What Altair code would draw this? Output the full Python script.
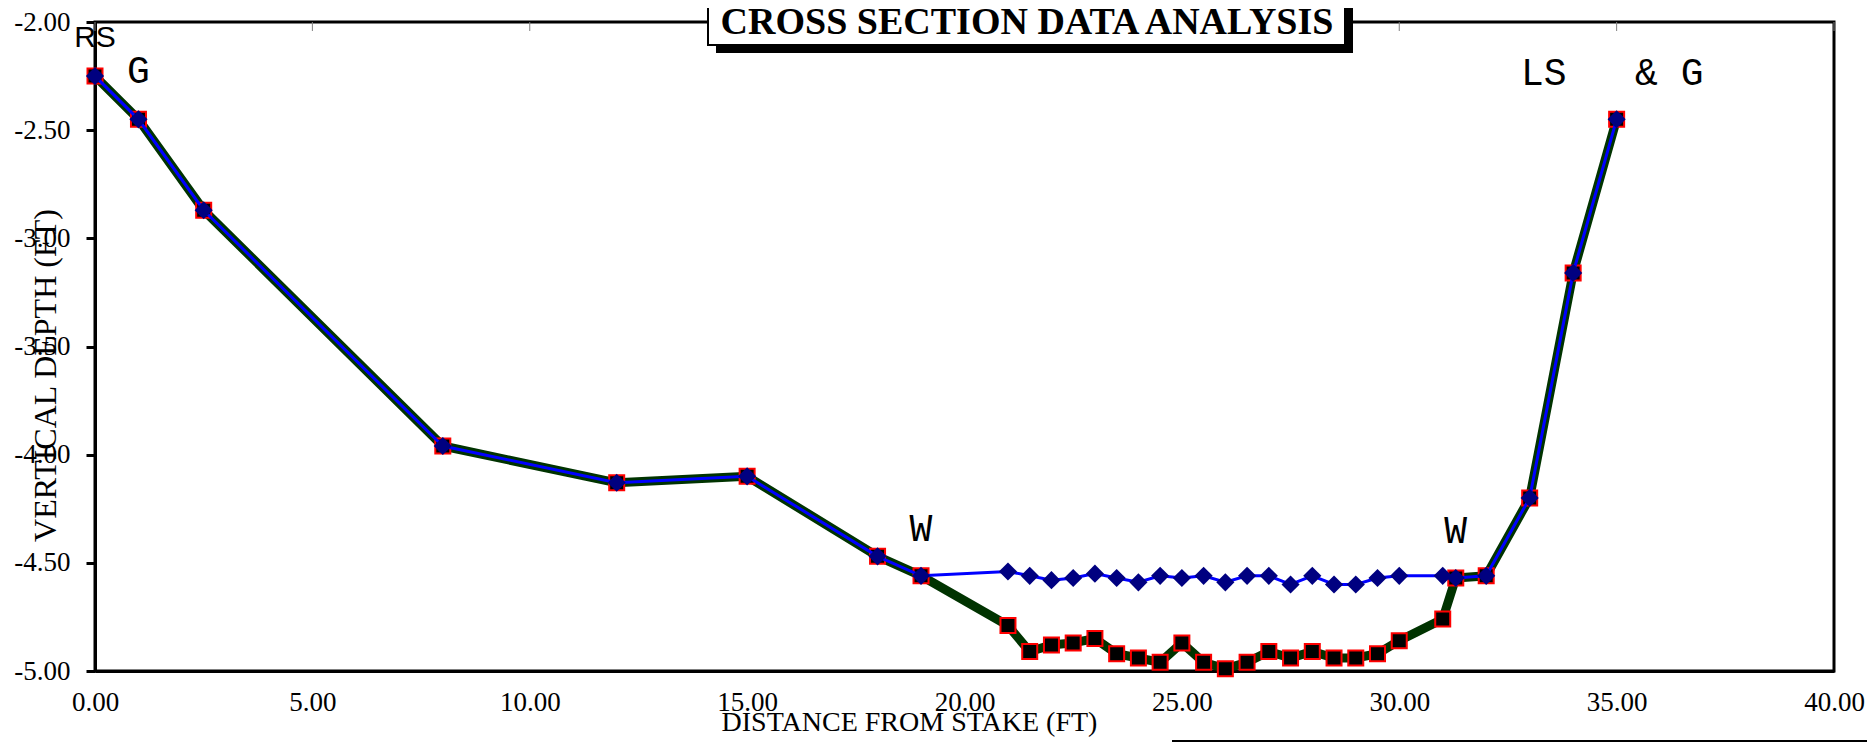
import altair as alt
import pandas as pd

# ---- data ----
dist_ground = [0, 1, 2.5, 8, 12, 15, 18, 19, 21, 21.5, 22, 22.5, 23, 23.5, 24, 24.5, 25,
               25.5, 26, 26.5, 27, 27.5, 28, 28.5, 29, 29.5, 30, 31, 31.3, 32, 33, 34, 35]
depth_ground = [-2.25, -2.45, -2.87, -3.96, -4.13, -4.10, -4.47, -4.56, -4.79, -4.91, -4.88,
                -4.87, -4.85, -4.92, -4.94, -4.96, -4.87, -4.96, -4.99, -4.96, -4.91, -4.94,
                -4.91, -4.94, -4.94, -4.92, -4.86, -4.76, -4.57, -4.56, -4.20, -3.16, -2.45]

dist_water = [0, 1, 2.5, 8, 12, 15, 18, 19, 21, 21.5, 22, 22.5, 23, 23.5, 24, 24.5, 25,
              25.5, 26, 26.5, 27, 27.5, 28, 28.5, 29, 29.5, 30, 31, 31.3, 32, 33, 34, 35]
depth_water = [-2.25, -2.45, -2.87, -3.96, -4.13, -4.10, -4.47, -4.56, -4.54, -4.56, -4.58,
               -4.57, -4.55, -4.57, -4.59, -4.56, -4.57, -4.56, -4.59, -4.56, -4.56, -4.60,
               -4.56, -4.60, -4.60, -4.57, -4.56, -4.56, -4.57, -4.56, -4.20, -3.16, -2.45]

x_ticks = [0, 5, 10, 15, 20, 25, 30, 35, 40]
y_ticks = [-5.0, -4.5, -4.0, -3.5, -3.0, -2.5, -2.0]

sans_labels = ["RS"]
sans_x = [0.0]
sans_y = [-2.116]

mono_labels = ["G", "LS\u00a0\u00a0\u00a0&\u00a0G", "W", "W"]
mono_x = [1.0, 34.9, 19.0, 31.3]
mono_y = [-2.282, -2.291, -4.40, -4.408]

chart_title = "CROSS SECTION DATA ANALYSIS"
x_title = "DISTANCE FROM STAKE (FT)"
y_title = "VERTICAL DEPTH (FT)"

# ---- tables ----
ground = pd.DataFrame({"dist": dist_ground, "depth": depth_ground})
water = pd.DataFrame({"dist": dist_water, "depth": depth_water})
sans_df = pd.DataFrame({"dist": sans_x, "depth": sans_y, "label": sans_labels})
mono_df = pd.DataFrame({"dist": mono_x, "depth": mono_y, "label": mono_labels})
tick_df = pd.DataFrame({"dist": x_ticks})
title_df = pd.DataFrame({"t": [chart_title]})

SERIF = "Liberation Serif"

x_scale = alt.Scale(domain=[0, 40], nice=False, zero=False)
y_scale = alt.Scale(domain=[-5, -2], nice=False, zero=False)

x_axis = alt.Axis(
    values=x_ticks, labelExpr="format(datum.value, '.2f')", ticks=False, grid=False,
    domainColor="black", domainWidth=3, labelFont=SERIF, labelFontSize=27,
    labelColor="black", labelPadding=18, labelOverlap=False, labelFlush=False,
    title=x_title, titleFont=SERIF, titleFontSize=28, titleFontWeight="normal",
    titleColor="black", titleX=814, titleY=59, titleBaseline="alphabetic",
    titleAlign="center",
)
y_axis = alt.Axis(
    values=y_ticks,
    labelExpr="(datum.value < 0 ? '-' : '') + format(abs(datum.value), '.2f')",
    ticks=True, tickSize=9, tickWidth=3, tickColor="black", grid=False,
    domainColor="black", domainWidth=3, labelFont=SERIF, labelFontSize=27,
    labelColor="black", labelPadding=16, labelOverlap=False, labelFlush=False,
    title=y_title, titleFont=SERIF, titleFontSize=32, titleFontWeight="normal",
    titleColor="black", titleX=-50, titleY=353, titleAngle=-90,
    titleAlign="center", titleBaseline="middle",
)

X = alt.X("dist:Q", scale=x_scale, axis=x_axis)
Y = alt.Y("depth:Q", scale=y_scale, axis=y_axis)

ground_line = alt.Chart(ground).mark_line(color="#003300", strokeWidth=9).encode(x=X, y=Y)
ground_pts = alt.Chart(ground).mark_point(
    shape="square", filled=True, fill="black", stroke="red", strokeWidth=2,
    size=225, opacity=1).encode(x=X, y=Y)
water_line = alt.Chart(water).mark_line(color="#0000FF", strokeWidth=3).encode(x=X, y=Y)
water_pts = alt.Chart(water).mark_point(
    shape="diamond", filled=True, fill="#000080", strokeWidth=0,
    size=330, opacity=1).encode(x=X, y=Y)

top_ticks = alt.Chart(tick_df).mark_rule(color="#808080", strokeWidth=1).encode(
    x=X, y=alt.value(0), y2=alt.value(9))

sans_text = alt.Chart(sans_df).mark_text(
    font="Liberation Sans", fontSize=30, align="center", baseline="alphabetic",
    color="black").encode(x=X, y=Y, text="label:N")
mono_text = alt.Chart(mono_df).mark_text(
    font="Liberation Mono", fontSize=38, align="center", baseline="alphabetic",
    color="black").encode(x=X, y=Y, text="label:N")

base = alt.Chart(title_df)
shadow = base.mark_rect(fill="black").encode(
    x=alt.value(621), x2=alt.value(1258), y=alt.value(-30), y2=alt.value(31))
box = base.mark_rect(fill="white", stroke="black", strokeWidth=2).encode(
    x=alt.value(613), x2=alt.value(1250), y=alt.value(-30), y2=alt.value(23))
title_text = base.mark_text(
    font=SERIF, fontWeight="bold", fontSize=38, align="center",
    baseline="alphabetic", color="black").encode(
    x=alt.value(932), y=alt.value(12), text="t:N")
bottom_rule = base.mark_rule(color="black", strokeWidth=2).encode(
    x=alt.value(1077), x2=alt.value(1772), y=alt.value(719))

chart = alt.layer(
    top_ticks, ground_line, ground_pts, water_line, water_pts,
    sans_text, mono_text, shadow, box, title_text, bottom_rule,
).properties(
    width=1739, height=649,
    autosize=alt.AutoSizeParams(type="none"),
    padding={"left": 87, "top": 14, "right": 33, "bottom": 72},
    background="white",
).configure_view(stroke="black", strokeWidth=3)

chart.save("out.html", embed_options={"renderer": "svg", "actions": False})
